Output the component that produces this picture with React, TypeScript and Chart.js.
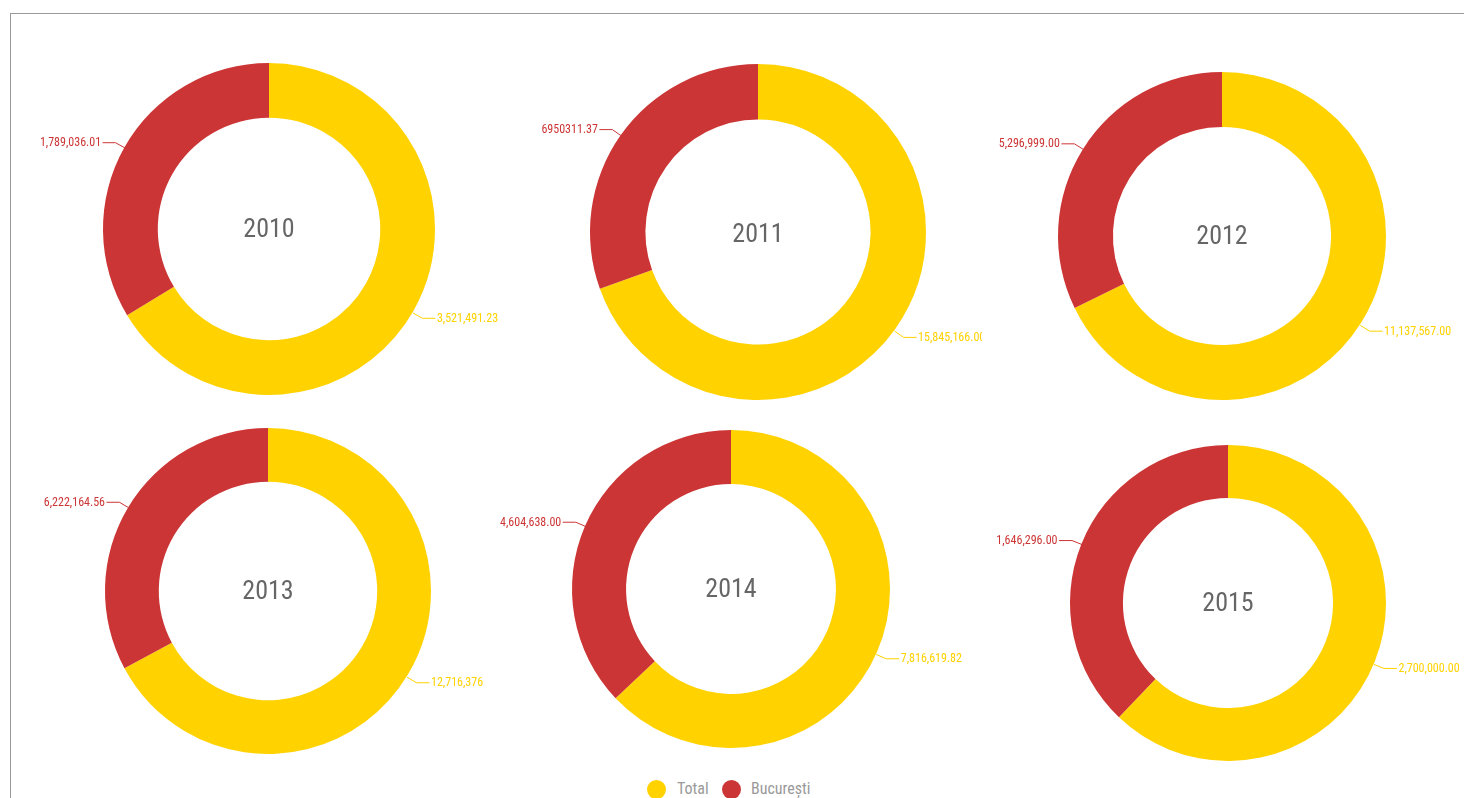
import React, { useEffect, useRef } from "react";
import { Chart, registerables } from "chart.js";

Chart.register(...registerables);

const YEARS = ["2010", "2011", "2012", "2013", "2014", "2015"];
const SERIES = ["Total", "București"];
const TOTAL_VALUES = [3521491.23, 15845166.0, 11137567.0, 12716376, 7816619.82, 2700000.0];
const BUCURESTI_VALUES = [1789036.01, 6950311.37, 5296999.0, 6222164.56, 4604638.0, 1646296.0];
const TOTAL_LABELS = ["3,521,491.23", "15,845,166.00", "11,137,567.00", "12,716,376", "7,816,619.82", "2,700,000.00"];
const BUCURESTI_LABELS = ["1,789,036.01", "6950311.37", "5,296,999.00", "6,222,164.56", "4,604,638.00", "1,646,296.00"];

const COLORS = ["#FFD200", "#CC3535"];
const FONT = '"Liberation Sans Narrow", "Roboto Condensed", "DejaVu Sans Condensed", "Noto Sans", sans-serif';

type Lay = { cx: number; cy: number; r: number; cut: string; ty: number; clip?: { w: number; h: number } };
const LAYOUT: Lay[] = [
  { cx: 269, cy: 229, r: 166, cut: "67%", ty: 1 },
  { cx: 758, cy: 232, r: 168, cut: "67%", ty: 3, clip: { w: 982, h: 400 } },
  { cx: 1222, cy: 236, r: 164, cut: "66.5%", ty: 1 },
  { cx: 268, cy: 591, r: 163, cut: "67%", ty: 1 },
  { cx: 731, cy: 589, r: 159, cut: "66%", ty: 1 },
  { cx: 1228, cy: 603, r: 158, cut: "66.5%", ty: 1 },
];
const PADX = 170;
const PADY = 20;

function makeLabelPlugin(idx: number) {
  return {
    id: "leaderLabels" + idx,
    afterDatasetsDraw(chart: any) {
      const ctx = chart.ctx;
      const meta = chart.getDatasetMeta(0);
      const texts = [TOTAL_LABELS[idx], BUCURESTI_LABELS[idx]];
      ctx.save();
      meta.data.forEach((arc: any, i: number) => {
        const p = arc.getProps(["x", "y", "startAngle", "endAngle", "outerRadius"], true);
        const mid = (p.startAngle + p.endAngle) / 2;
        const dx = Math.cos(mid);
        const dy = Math.sin(mid);
        const side = dx >= 0 ? 1 : -1;
        const shift = dy > 0 ? 3 : 0;
        const x0 = p.x + dx * (p.outerRadius - 1);
        const y0 = p.y + dy * (p.outerRadius - 1) + shift;
        const x1 = p.x + dx * (p.outerRadius + 10);
        const y1 = p.y + dy * (p.outerRadius + 10) + shift;
        const x2 = x1 + side * 13;
        ctx.strokeStyle = COLORS[i];
        ctx.lineWidth = 1;
        ctx.beginPath();
        ctx.moveTo(x0, y0);
        ctx.lineTo(x1, y1);
        ctx.lineTo(x2, y1);
        ctx.stroke();
        ctx.fillStyle = COLORS[i];
        ctx.font = "12px " + FONT;
        ctx.textBaseline = "middle";
        ctx.textAlign = side > 0 ? "left" : "right";
        ctx.fillText(texts[i], x2 + side * 1.5, y1 + 0.5);
      });
      const a = chart.chartArea;
      ctx.fillStyle = "#666666";
      ctx.font = "26px " + FONT;
      ctx.textAlign = "center";
      ctx.textBaseline = "middle";
      ctx.fillText(YEARS[idx], (a.left + a.right) / 2, (a.top + a.bottom) / 2 + LAYOUT[idx].ty);
      ctx.restore();
    },
  };
}

function Donut({ idx }: { idx: number }) {
  const ref = useRef<HTMLCanvasElement>(null);
  const L = LAYOUT[idx];
  const w = 2 * L.r + 2 * PADX;
  const h = 2 * L.r + 2 * PADY;
  useEffect(() => {
    const chart = new Chart(ref.current as HTMLCanvasElement, {
      type: "doughnut",
      data: {
        labels: SERIES,
        datasets: [
          {
            data: [TOTAL_VALUES[idx], BUCURESTI_VALUES[idx]],
            backgroundColor: COLORS,
            borderWidth: 0,
            hoverOffset: 0,
          },
        ],
      },
      options: {
        responsive: false,
        animation: false,
        cutout: L.cut,
        events: [],
        layout: { padding: { left: PADX, right: PADX, top: PADY, bottom: PADY } },
        plugins: { legend: { display: false }, tooltip: { enabled: false } },
      },
      plugins: [makeLabelPlugin(idx)],
    } as any);
    return () => chart.destroy();
  }, [idx]);
  const canvas = (
    <canvas
      ref={ref}
      width={w}
      height={h}
      style={{ position: "absolute", left: L.cx - L.r - PADX, top: L.cy - L.r - PADY, width: w, height: h }}
    />
  );
  if (L.clip) {
    return (
      <div style={{ position: "absolute", left: 0, top: 0, width: L.clip.w, height: L.clip.h, overflow: "hidden" }}>
        {canvas}
      </div>
    );
  }
  return canvas;
}

export default function App() {
  const legendItems = [
    { x: 647, tx: 677 },
    { x: 722, tx: 751 },
  ];
  return (
    <div style={{ position: "absolute", left: 0, top: 0, width: 1464, height: 798, overflow: "hidden", background: "#fff" }}>
      <div
        style={{
          position: "absolute",
          left: 10,
          top: 13,
          width: 1500,
          height: 900,
          borderTop: "1px solid #999",
          borderLeft: "1px solid #999",
        }}
      />
      {YEARS.map((_, i) => (
        <Donut key={i} idx={i} />
      ))}
      {SERIES.map((s, i) => (
        <React.Fragment key={s}>
          <div
            style={{
              position: "absolute",
              left: legendItems[i].x,
              top: 780,
              width: 19,
              height: 19,
              borderRadius: "50%",
              background: COLORS[i],
            }}
          />
          <div
            style={{
              position: "absolute",
              left: legendItems[i].tx,
              top: 779,
              fontFamily: FONT,
              fontSize: 16,
              lineHeight: "20px",
              color: "#9a9a9a",
              whiteSpace: "nowrap",
            }}
          >
            {s}
          </div>
        </React.Fragment>
      ))}
    </div>
  );
}
